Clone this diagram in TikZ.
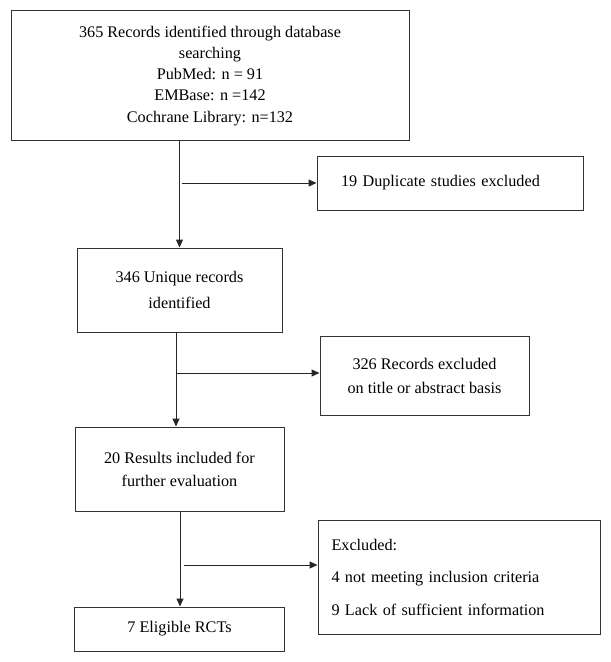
\documentclass[tikz,border=0pt]{standalone}
\usepackage{fontspec}
\setmainfont{Liberation Serif}
\usetikzlibrary{arrows.meta}
\begin{document}
\begin{tikzpicture}[x=1pt,y=-1pt,
  box/.style={draw=black!80, line width=1pt, inner sep=0pt, align=center, font=\fontsize{16.2}{24}\selectfont},
  arr/.style={draw=black!85, line width=1pt, -{Triangle[length=8pt,width=7pt]}}]
\useasboundingbox (0,0) rectangle (611,662);
\node[box, minimum width=398pt, minimum height=130pt, font=\fontsize{16.2}{21.3}\selectfont] (rec) at (210,75.7)
  {365 Records identified through database\\searching\\PubMed: n = 91\\EMBase: n =142\\Cochrane Library: n=132};
\node[box, minimum width=266pt, minimum height=54pt, align=left, text width=218pt] (dup) at (450,183)
  {19 Duplicate studies excluded};
\node[box, minimum width=205pt, minimum height=84pt, font=\fontsize{16.2}{25.5}\selectfont] (uniq) at (179.5,290)
  {346 Unique records\\identified};
\node[box, minimum width=209pt, minimum height=78.5pt] (ex2) at (424.5,376)
  {326 Records excluded\\on title or abstract basis};
\node[box, minimum width=209pt, minimum height=84pt, font=\fontsize{16.2}{23}\selectfont] (res) at (179.5,469)
  {20 Results included for\\further evaluation};
\node[box, minimum width=209.5pt, minimum height=44pt] (rct) at (179.5,629)
  {7 Eligible RCTs};
\node[box, minimum width=282pt, minimum height=114pt, align=left, text width=255pt] (excl) at (459,577)
  {Excluded:\\[8.5pt]4 not meeting inclusion criteria\\[8.5pt]9 Lack of sufficient information};
% connectors
\draw[arr] (uniq.north |- rec.south) -- (uniq.north);
\draw[arr] ([xshift=2pt]uniq.north |- dup.west) -- (dup.west);
\coordinate (v2) at ([xshift=-3.5pt]uniq.south);
\coordinate (e2) at ([yshift=3pt]ex2.west);
\draw[arr] (v2) -- (v2 |- res.north);
\draw[arr] (v2 |- e2) -- (e2);
\coordinate (v3) at ([xshift=0.5pt]res.south);
\coordinate (e3) at ([yshift=12pt]excl.west);
\draw[arr] (v3) -- (v3 |- rct.north);
\draw[arr] ([xshift=3.5pt]v3 |- e3) -- (e3);
\end{tikzpicture}
\end{document}
